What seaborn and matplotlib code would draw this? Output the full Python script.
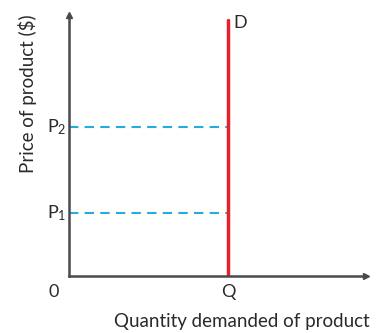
import numpy as np
import pandas as pd
import seaborn as sns
import matplotlib.pyplot as plt

# Data
quantity_q = 5.35
price_levels = [2.4, 5.7]
price_labels = ["P$_{1}$", "P$_{2}$"]
demand_top = 9.8

sns.set_style("white")
plt.rcParams['font.family'] = ['Lato', 'DejaVu Sans']
plt.rcParams['mathtext.default'] = 'regular'

fig = plt.figure(figsize=(3.81, 3.33), dpi=100)
ax = fig.add_axes([69/381, 57/333, 297/381, 261/333])
ax.set_xlim(0, 10)
ax.set_ylim(0, 10)

axis_col = "#4a4a4a"
red = "#e3232c"
blue = "#2aa9e0"

# Dashed price lines
for p in price_levels:
    df = pd.DataFrame({"x": [0, quantity_q], "y": [p, p]})
    sns.lineplot(data=df, x="x", y="y", ax=ax, color=blue, lw=1.5,
                 linestyle=(0, (4.5, 3)))

# Perfectly inelastic demand curve
demand = pd.DataFrame({"x": [quantity_q, quantity_q], "y": [0, demand_top]})
sns.lineplot(data=demand, x="x", y="y", ax=ax, color=red, lw=2.5,
             estimator=None, sort=False)

# Axes styling
for s in ["top", "right"]:
    ax.spines[s].set_visible(False)
for s in ["left", "bottom"]:
    ax.spines[s].set_color(axis_col)
    ax.spines[s].set_linewidth(1.8)
ax.set_xticks([])
ax.set_yticks([])
ax.set_xlabel("")
ax.set_ylabel("")
ax.plot(1, 0, ">", color=axis_col, ms=5, transform=ax.transAxes, clip_on=False)
ax.plot(0, 1, "^", color=axis_col, ms=5, transform=ax.transAxes, clip_on=False)

# Labels
txt = "#2a2a2a"
fs = 13
for p, lab in zip(price_levels, price_labels):
    ax.text(-0.1, p, lab, ha="right", va="center", fontsize=fs, color=txt)
ax.text(quantity_q, -0.3, "Q", ha="center", va="top", fontsize=fs, color=txt)
ax.text(-0.35, -0.3, "0", ha="right", va="top", fontsize=fs, color=txt)
ax.text(quantity_q + 0.2, demand_top - 0.1, "D", ha="left", va="center",
        fontsize=fs, color=txt)

fig.text(242/381, 1 - 322/333, "Quantity demanded of product", ha="center",
         va="center", fontsize=13.5, color=txt)
fig.text(28/381, 1 - 94/333, "Price of product ($)", ha="center", va="center",
         rotation=90, fontsize=13.5, color=txt)

fig.savefig("out.png", dpi=100)
